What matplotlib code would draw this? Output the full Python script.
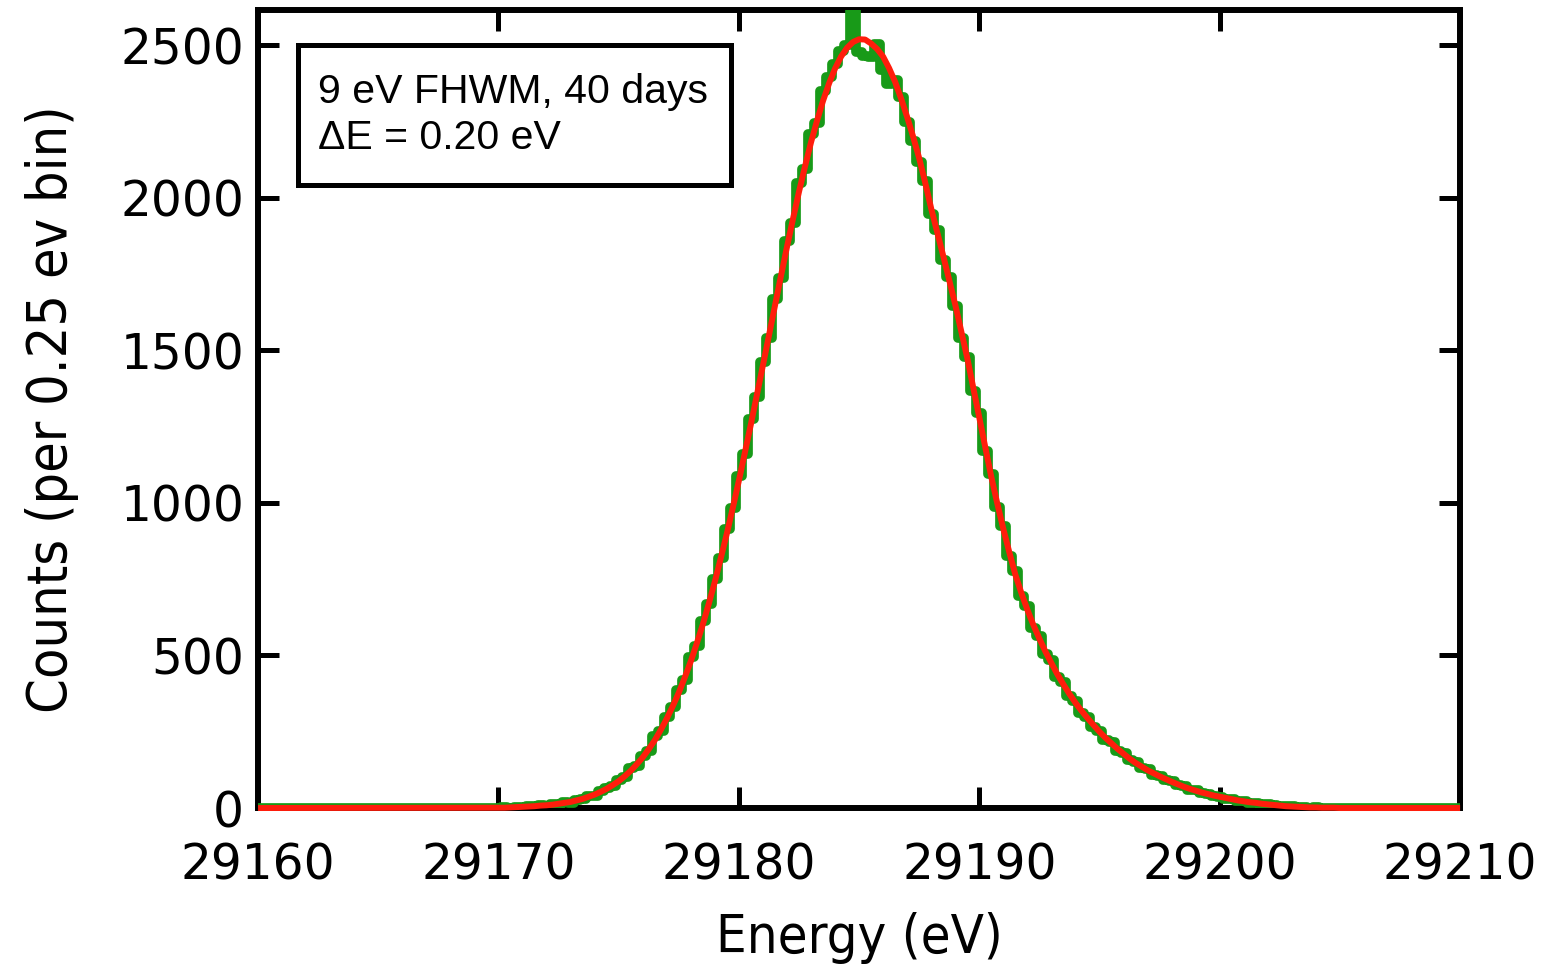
#!/usr/bin/env python3
"""
Spectrum line shape: histogram of counts (0.25 eV bins) with fitted curve.
"""

import numpy as np
import matplotlib.pyplot as plt
from matplotlib.patches import Rectangle

# Energy grid of the nonzero region (0.25 eV bins, 29170 .. 29205 eV)
e_start, e_stop, e_step = 29170.0, 29205.0, 0.25
x_limits = (29160, 29210)
y_limits = (0, 2616)
x_ticks = [29160, 29170, 29180, 29190, 29200, 29210]
y_ticks = [0, 500, 1000, 1500, 2000, 2500]

counts_hist = [
    0, 2, 1, 4, 3, 6, 5, 10, 8, 13, 12, 19, 18, 27, 28, 41,
    40, 55, 66, 72, 93, 101, 130, 139, 172, 187, 236, 252, 300, 331, 388, 421,
    494, 532, 614, 668, 752, 818, 914, 982, 1088, 1160, 1276, 1348, 1462, 1542, 1670, 1738,
    1860, 1918, 2048, 2096, 2208, 2245, 2350, 2396, 2440, 2480, 2500, 2640, 2478, 2466, 2462, 2505,
    2420, 2372, 2386, 2330, 2250, 2188, 2116, 2056, 1946, 1896, 1796, 1740, 1646, 1540, 1480, 1366,
    1294, 1170, 1096, 986, 926, 826, 776, 694, 662, 590, 564, 506, 484, 430, 414, 366,
    352, 310, 300, 266, 254, 224, 215, 188, 181, 156, 152, 131, 127, 109, 106, 91,
    88, 75, 71, 60, 58, 48, 46, 39, 37, 31, 29, 24, 22, 18, 17, 13,
    12, 9, 8, 6, 5, 3, 4, 1, 2, 1, 1, 0, 0,
]

# Fitted line shape on the same grid
counts_fit = [
    1, 1, 2, 3, 4, 5, 6, 8, 9, 11, 14, 17, 20, 25, 30, 37,
    44, 53, 63, 75, 88, 104, 122, 143, 166, 193, 222, 256, 293, 334, 378, 428,
    481, 540, 602, 670, 742, 820, 900, 985, 1073, 1165, 1258, 1354, 1451, 1549, 1647, 1744,
    1839, 1931, 2020, 2103, 2182, 2253, 2318, 2375, 2424, 2463, 2492, 2511, 2520, 2519, 2506, 2488,
    2463, 2425, 2380, 2325, 2265, 2200, 2130, 2050, 1965, 1888, 1810, 1730, 1650, 1562, 1475, 1378,
    1280, 1182, 1085, 998, 915, 838, 765, 705, 650, 600, 555, 513, 475, 438, 405, 374,
    345, 319, 295, 272, 250, 230, 212, 194, 178, 162, 148, 136, 124, 114, 104, 95,
    86, 78, 70, 63, 57, 51, 46, 41, 37, 33, 29, 25, 22, 19, 17, 14,
    12, 10, 8, 6, 5, 4, 3, 2, 2, 1, 1, 1, 0,
]

label_text = "9 eV FHWM, 40 days\n\u0394E = 0.20 eV"


def plot_spectrum():
    energy = np.arange(e_start, e_stop + e_step / 2, e_step)
    # pad with empty bins out to the plot edges
    energy = np.concatenate([[x_limits[0]], energy, [x_limits[1]]])
    hist = np.concatenate([[0], counts_hist, [0]])
    fit = np.concatenate([[0], counts_fit, [0]])

    fig = plt.figure(figsize=(15.5, 9.67), dpi=100)
    ax = fig.add_axes([0.1665, 0.1644, 0.7755, 0.8253])

    ax.plot(energy, hist, drawstyle='steps-mid', color='#189a18',
            linewidth=7.0, solid_joinstyle='round', zorder=4)
    ax.plot(energy, fit, color='#ff1d0c', linewidth=4.3,
            zorder=5, clip_on=False, solid_capstyle='butt')

    ax.set_xlim(*x_limits)
    ax.set_ylim(*y_limits)
    ax.set_xticks(x_ticks)
    ax.set_yticks(y_ticks)
    ax.set_xticklabels([str(t) for t in x_ticks])
    ax.set_yticklabels([str(t) for t in y_ticks])

    for side in ['left', 'right', 'top', 'bottom']:
        ax.spines[side].set_linewidth(4.3)
        ax.spines[side].set_color('black')

    ax.tick_params(axis='both', which='major', direction='in', length=15,
                   width=3.6, top=True, right=True, labelsize=35)
    ax.tick_params(axis='x', pad=24)
    ax.tick_params(axis='y', pad=10)

    ax.set_xlabel('Energy (eV)', fontsize=39, fontstretch='condensed',
                  labelpad=16)
    ax.set_ylabel('Counts (per 0.25 ev bin)', fontsize=40,
                  fontstretch='condensed', labelpad=30)

    # annotation box
    ax.add_patch(Rectangle((0.0333, 0.7807), 0.3602, 0.1754,
                           transform=ax.transAxes, facecolor='white',
                           edgecolor='black', linewidth=3.6, zorder=6))
    ax.text(0.05, 0.921, label_text, transform=ax.transAxes, fontsize=29.5,
            family=['Liberation Sans', 'DejaVu Sans'], va='top', ha='left',
            linespacing=1.27, zorder=7)

    fig.savefig('out.png', dpi=100)
    plt.close(fig)


if __name__ == "__main__":
    plot_spectrum()
